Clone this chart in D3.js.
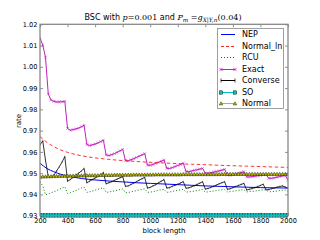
<!DOCTYPE html>
<html><head><meta charset="utf-8">
<script src="https://cdnjs.cloudflare.com/ajax/libs/d3/7.8.5/d3.min.js"></script>
<style>
html,body{margin:0;padding:0;background:#fff;}
svg{display:block;}
text{font-family:"DejaVu Sans",sans-serif;fill:#000;}
</style></head>
<body><svg id="c" width="320" height="240"></svg>
<script>
// ---- data ----
const blockLength = [200,220,240,260,280,300,320,340,360,380,400,420,440,460,480,500,520,540,560,580,600,620,640,660,680,700,720,740,760,780,800,820,840,860,880,900,920,940,960,980,1000,1020,1040,1060,1080,1100,1120,1140,1160,1180,1200,1220,1240,1260,1280,1300,1320,1340,1360,1380,1400,1420,1440,1460,1480,1500,1520,1540,1560,1580,1600,1620,1640,1660,1680,1700,1720,1740,1760,1780,1800,1820,1840,1860,1880,1900,1920,1940,1960,1980,2000];
const blockLengthCoarse = [200,250,300,350,400,500,600,700,800,900,1000,1100,1200,1300,1400,1500,1600,1700,1800,1900,2000];

const nepValues = [0.9547,0.9522,0.9507,0.9495,0.9487,0.9475,0.9468,0.9463,0.9459,0.9455,0.9452,0.9449,0.9446,0.9443,0.9440,0.9438,0.9436,0.9434,0.9432,0.9431,0.9430];
const normalLnValues = [0.9672,0.9645,0.9625,0.9609,0.9598,0.9582,0.9572,0.9565,0.9559,0.9555,0.9551,0.9548,0.9545,0.9542,0.9540,0.9537,0.9535,0.9533,0.9531,0.9529,0.9527];

const exactValues = [1.0134,1.0103,1.0045,0.9872,0.9844,0.9838,0.9835,0.9835,0.9836,0.9838,
0.9710,0.9702,0.9705,0.9708,0.9712,0.9718,0.9725,
0.9635,0.9630,0.9633,0.9637,0.9642,0.9648,0.9655,
0.9586,0.9583,0.9587,0.9592,0.9598,0.9605,0.9612,
0.9560,0.9558,0.9563,0.9568,0.9574,0.9580,0.9586,0.9592,
0.9538,0.9537,0.9541,0.9546,0.9551,0.9556,0.9562,
0.9523,0.9522,0.9526,0.9531,0.9536,0.9541,0.9547,
0.9508,0.9507,0.9510,0.9513,0.9516,0.9519,0.9522,
0.9500,0.9499,0.9502,0.9505,0.9508,0.9511,0.9514,0.9518,
0.9491,0.9490,0.9493,0.9496,0.9499,0.9503,0.9507,
0.9483,0.9482,0.9484,0.9486,0.9488,0.9490,0.9492,0.9493,
0.9476,0.9476,0.9478,0.9481,0.9484,0.9487,0.9489,0.9468];

const converseValues = [0.9633,0.9652,0.9560,0.9484,0.9482,0.9490,0.9510,0.9530,0.9552,0.9578,
0.9462,0.9470,0.9480,0.9490,0.9500,0.9510,0.9522,
0.9455,0.9462,0.9470,0.9477,0.9485,0.9492,0.9503,
0.9450,0.9455,0.9460,0.9466,0.9472,0.9478,0.9484,
0.9438,0.9440,0.9447,0.9453,0.9460,0.9467,0.9474,0.9480,
0.9430,0.9433,0.9440,0.9446,0.9455,0.9462,0.9470,
0.9430,0.9432,0.9438,0.9443,0.9448,0.9454,0.9460,
0.9429,0.9431,0.9436,0.9441,0.9447,0.9453,0.9460,
0.9425,0.9428,0.9433,0.9438,0.9444,0.9450,0.9455,0.9460,
0.9424,0.9427,0.9432,0.9437,0.9442,0.9447,0.9452,
0.9421,0.9424,0.9428,0.9432,0.9437,0.9442,0.9448,0.9422,
0.9423,0.9427,0.9430,0.9434,0.9437,0.9440,0.9435,0.9429];

const rcuValues = [0.9460,0.9440,0.9398,0.9402,0.9408,0.9412,0.9418,0.9424,0.9430,0.9436,
0.9405,0.9408,0.9413,0.9418,0.9424,0.9430,0.9435,
0.9410,0.9412,0.9416,0.9420,0.9424,0.9428,0.9432,
0.9410,0.9411,0.9414,0.9417,0.9420,0.9423,0.9426,
0.9408,0.9409,0.9412,0.9415,0.9418,0.9421,0.9424,0.9426,
0.9410,0.9411,0.9413,0.9416,0.9419,0.9422,0.9424,
0.9410,0.9411,0.9414,0.9417,0.9419,0.9422,0.9424,
0.9411,0.9412,0.9414,0.9416,0.9418,0.9421,0.9423,
0.9411,0.9412,0.9414,0.9416,0.9418,0.9420,0.9422,0.9423,
0.9412,0.9413,0.9415,0.9417,0.9419,0.9421,0.9422,
0.9412,0.9413,0.9414,0.9416,0.9418,0.9420,0.9421,0.9422,
0.9412,0.9413,0.9414,0.9416,0.9418,0.9420,0.9421,0.9414];

const soValues = [0.9301,0.9301,0.9301,0.9301,0.9301,0.9301,0.9301,0.9301,0.9301,0.9301,
0.9301,0.9301,0.9301,0.9301,0.9301,0.9301,0.9301,0.9301,0.9301,0.9301,
0.9301,0.9301,0.9301,0.9301,0.9301,0.9301,0.9301,0.9301,0.9301,0.9301,
0.9301,0.9301,0.9301,0.9301,0.9301,0.9301,0.9301,0.9301,0.9301,0.9301,
0.9301,0.9301,0.9301,0.9301,0.9301,0.9301,0.9301,0.9301,0.9301,0.9301,
0.9301,0.9301,0.9301,0.9301,0.9301,0.9301,0.9301,0.9301,0.9301,0.9301,
0.9301,0.9301,0.9301,0.9301,0.9301,0.9301,0.9301,0.9301,0.9301,0.9301,
0.9301,0.9301,0.9301,0.9301,0.9301,0.9301,0.9301,0.9301,0.9301,0.9301,
0.9301,0.9301,0.9301,0.9301,0.9301,0.9301,0.9301,0.9301,0.9301,0.9301,0.9301];

const normalValues = [0.9483,0.9484,0.9484,0.9485,0.9485,0.9486,0.9486,0.9487,0.9487,0.9487,
0.9488,0.9488,0.9488,0.9489,0.9489,0.9489,0.9489,0.9490,0.9490,0.9490,
0.9490,0.9490,0.9491,0.9491,0.9491,0.9491,0.9491,0.9492,0.9492,0.9492,
0.9492,0.9492,0.9492,0.9492,0.9493,0.9493,0.9493,0.9493,0.9493,0.9493,
0.9493,0.9493,0.9494,0.9494,0.9494,0.9494,0.9494,0.9494,0.9494,0.9494,
0.9494,0.9494,0.9495,0.9495,0.9495,0.9495,0.9495,0.9495,0.9495,0.9495,
0.9495,0.9495,0.9495,0.9495,0.9495,0.9495,0.9496,0.9496,0.9496,0.9496,
0.9496,0.9496,0.9496,0.9496,0.9496,0.9496,0.9496,0.9496,0.9496,0.9496,
0.9496,0.9496,0.9496,0.9496,0.9496,0.9496,0.9496,0.9496,0.9496,0.9496,0.9496];

const xTicks = [200,400,600,800,1000,1200,1400,1600,1800,2000];
const yTicks = [0.93,0.94,0.95,0.96,0.97,0.98,0.99,1.00,1.01,1.02];
const legendLabels = ["NEP","Normal_ln","RCU","Exact","Converse","SO","Normal"];

// ---- layout ----
const svg = d3.select("#c");
const L = 40, R = 288, T = 24.3, B = 215.7;
const x = d3.scaleLinear().domain([200,2000]).range([L,R]);
const y = d3.scaleLinear().domain([0.93,1.02]).range([B,T]);

const defs = svg.append("defs");
defs.append("clipPath").attr("id","clip").append("rect").attr("x",L).attr("y",T-2).attr("width",R-L).attr("height",B-T+4);

const plot = svg.append("g").attr("clip-path","url(#clip)");

const fine = (vals) => blockLength.map((n,i)=>[n, vals[i]]);
const coarse = (vals) => blockLengthCoarse.map((n,i)=>[n, vals[i]]);
const line = d3.line().x(d=>x(d[0])).y(d=>y(d[1]));
const smooth = d3.line().x(d=>x(d[0])).y(d=>y(d[1])).curve(d3.curveMonotoneX);

const colors = {nep:"#0000ff", nln:"#ff2020", rcu:"#008000", exact:"#c020c0", conv:"#000000", so:"#00bfbf", normal:"#bfbf00"};

// SO
plot.append("path").datum(fine(soValues)).attr("d",line).attr("fill","none").attr("stroke",colors.so).attr("stroke-width",1);
plot.selectAll(".so").data(fine(soValues)).enter().append("rect")
  .attr("x",d=>x(d[0])-1.8).attr("y",d=>y(d[1])-1.8).attr("width",3.6).attr("height",3.6)
  .attr("fill",colors.so).attr("stroke","#004040").attr("stroke-width",0.4);

// Exact
plot.append("path").datum(fine(exactValues)).attr("d",line).attr("fill","none").attr("stroke",colors.exact).attr("stroke-width",1);
const xMark = (cx,cy,s)=>`M${cx-s},${cy-s}L${cx+s},${cy+s}M${cx-s},${cy+s}L${cx+s},${cy-s}`;
plot.append("path").attr("d", fine(exactValues).map(d=>xMark(x(d[0]),y(d[1]),1.4)).join(""))
  .attr("fill","none").attr("stroke",colors.exact).attr("stroke-width",0.6).attr("stroke-opacity",0.8);

// Normal_ln
plot.append("path").datum(coarse(normalLnValues)).attr("d",smooth).attr("fill","none").attr("stroke",colors.nln).attr("stroke-width",0.9).attr("stroke-dasharray","3.5,2.5");

// NEP
plot.append("path").datum(coarse(nepValues)).attr("d",smooth).attr("fill","none").attr("stroke",colors.nep).attr("stroke-width",1);

// RCU
plot.append("path").datum(fine(rcuValues)).attr("d",line).attr("fill","none").attr("stroke",colors.rcu).attr("stroke-width",1).attr("stroke-dasharray","1,2");

// Converse
plot.append("path").datum(fine(converseValues)).attr("d",line).attr("fill","none").attr("stroke",colors.conv).attr("stroke-width",0.8);
plot.append("path").attr("d", fine(converseValues).map(d=>`M${x(d[0])},${y(d[1])-0.9}L${x(d[0])},${y(d[1])+0.9}`).join(""))
  .attr("fill","none").attr("stroke",colors.conv).attr("stroke-width",0.4);

// Normal
plot.append("path").datum(fine(normalValues)).attr("d",line).attr("fill","none").attr("stroke",colors.normal).attr("stroke-width",1);
const tri = (cx,cy,s)=>`M${cx},${cy-s}L${cx+s},${cy+s*0.8}L${cx-s},${cy+s*0.8}Z`;
plot.selectAll(".nm").data(fine(normalValues)).enter().append("path")
  .attr("d",d=>tri(x(d[0]),y(d[1]),1.8)).attr("fill",colors.normal).attr("stroke","#000").attr("stroke-width",0.4);

// ---- axes ----
const axG = svg.append("g");
const fmtY = d3.format(".2f");
axG.append("g").attr("transform",`translate(0,${B})`).call(d3.axisBottom(x).tickValues(xTicks).tickSize(-3).tickPadding(3).tickFormat(d3.format("d")));
axG.append("g").attr("transform",`translate(0,${T})`).call(d3.axisTop(x).tickValues(xTicks).tickSize(-3).tickFormat(""));
axG.append("g").attr("transform",`translate(${L},0)`).call(d3.axisLeft(y).tickValues(yTicks).tickSize(-3).tickPadding(2.5).tickFormat(fmtY));
axG.append("g").attr("transform",`translate(${R},0)`).call(d3.axisRight(y).tickValues(yTicks).tickSize(-3).tickFormat(""));
axG.selectAll(".domain").remove();
axG.selectAll(".tick line").attr("stroke","#444").attr("stroke-width",0.6);
axG.selectAll(".tick text").attr("font-size","6.6px").attr("font-family","DejaVu Sans").attr("fill","#000");
svg.append("rect").attr("x",L).attr("y",T).attr("width",R-L).attr("height",B-T).attr("fill","none").attr("stroke","#888").attr("stroke-width",1.3);

// labels
svg.append("text").attr("x",164).attr("y",233).attr("text-anchor","middle").attr("font-size","7px").text("block length");
svg.append("text").attr("transform","translate(21,121) rotate(-90)").attr("text-anchor","middle").attr("font-size","7px").text("rate");

// title
const title = svg.append("text").attr("x",163).attr("y",20).attr("text-anchor","middle").attr("font-size","8px");
title.append("tspan").text("BSC with ");
title.append("tspan").attr("font-family","DejaVu Serif").attr("font-style","italic").text("p");
title.append("tspan").attr("font-family","DejaVu Serif").text("=0.001");
title.append("tspan").text(" and ");
title.append("tspan").attr("font-family","DejaVu Serif").attr("font-style","italic").text("P");
title.append("tspan").attr("font-family","DejaVu Serif").attr("font-style","italic").attr("font-size","5.8px").attr("dy",1.5).text("m");
title.append("tspan").attr("font-family","DejaVu Serif").attr("dy",-1.5).text(" =");
title.append("tspan").attr("font-family","DejaVu Serif").attr("font-style","italic").text("g");
title.append("tspan").attr("font-family","DejaVu Serif").attr("font-style","italic").attr("font-size","5.8px").attr("dy",1.5).text("X|Y,n");
title.append("tspan").attr("font-family","DejaVu Serif").attr("dy",-1.5).text("(0.04)");

// ---- legend ----
const lg = svg.append("g");
lg.append("rect").attr("x",217.5).attr("y",28.5).attr("width",66).attr("height",80).attr("fill","#fff").attr("stroke","#888").attr("stroke-width",0.8);
const ldy = 11.55, lx0 = 221, lx1 = 235;
const legendStyles = [
  {c:colors.nep},{c:colors.nln,dash:"3,2"},{c:colors.rcu,dash:"1,2"},{c:colors.exact,m:"x"},{c:colors.conv,m:"|"},{c:colors.so,m:"s"},{c:colors.normal,m:"^"}
];
legendLabels.forEach((lab,i)=>{
  const yy = Math.round(34 + i*ldy) + 0.5;
  const g = lg.append("g");
  const st = legendStyles[i];
  const ln = g.append("line").attr("x1",lx0).attr("x2",lx1).attr("y1",yy).attr("y2",yy).style("stroke",st.c).attr("stroke-width",1);
  if(st.dash) ln.attr("stroke-dasharray",st.dash);
  [lx0,lx1].forEach(px=>{
    if(st.m==="x") g.append("path").attr("d",xMark(px,yy,1.6)).style("stroke",st.c).attr("stroke-width",0.8);
    if(st.m==="|") g.append("line").attr("x1",px).attr("x2",px).attr("y1",yy-2).attr("y2",yy+2).style("stroke","#000").attr("stroke-width",0.7);
    if(st.m==="s") g.append("rect").attr("x",px-1.7).attr("y",yy-1.7).attr("width",3.4).attr("height",3.4).attr("fill",colors.so).attr("stroke","#000").attr("stroke-width",0.4);
    if(st.m==="^") g.append("path").attr("d",tri(px,yy,1.8)).attr("fill",colors.normal).attr("stroke","#000").attr("stroke-width",0.4);
  });
  g.append("text").attr("x",242).attr("y",yy+2.6).attr("font-size","8px").text(lab);
});
</script></body></html>
